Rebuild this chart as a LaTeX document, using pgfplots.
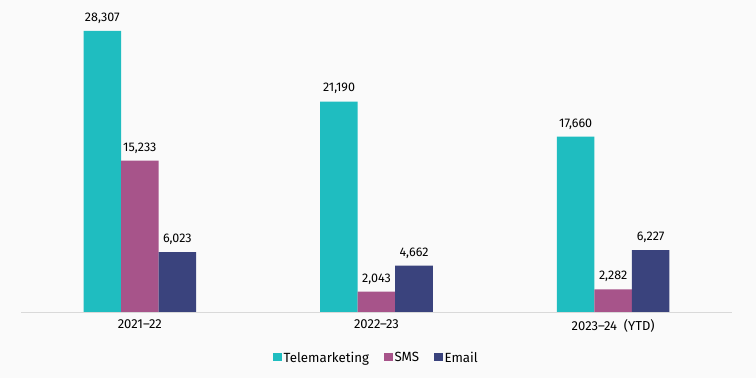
\documentclass[border=0pt]{standalone}
\usepackage{fontspec}
\setmainfont{Fira Sans}
\usepackage{pgfplots}
\pgfplotsset{compat=1.18}
\definecolor{tele}{RGB}{31,189,192}
\definecolor{sms}{RGB}{167,84,138}
\definecolor{email}{RGB}{58,67,125}
\definecolor{bgc}{RGB}{250,250,250}
\begin{document}
\begin{tikzpicture}[x=1pt,y=1pt]
\fill[bgc] (0,0) rectangle (756,378);
\path[use as bounding box] (0,0) rectangle (756,378);
\begin{axis}[
  at={(21.5pt,66pt)}, anchor=south west,
  scale only axis, width=710pt, height=301.9pt,
  xmin=-0.5, xmax=2.5, ymin=0, ymax=30400,
  ybar=0pt, bar width=37.5pt,
  axis x line*=bottom, axis y line=none,
  x axis line style={-, draw=black!15, line width=0.8pt},
  xtick={0,1,2}, xticklabels={2021--22,2022--23,2023--24\ \ (YTD)},
  major tick length=0pt,
  xticklabel style={font=\fontsize{13}{15}\selectfont, text=black, yshift=-4pt},
  ytick=\empty,
  nodes near coords={\pgfmathprintnumber[fixed,precision=0,1000 sep={,},assume math mode=true]{\pgfplotspointmeta}},
  every node near coord/.append style={font=\fontsize{12.5}{14}\selectfont, text=black, yshift=4pt},
  legend style={at={(0.5,-0.151)}, anchor=center, draw=none, fill=none,
    legend columns=-1, font=\fontsize{13.3}{16}\selectfont,
    /tikz/every even column/.append style={column sep=13pt},
    /tikz/every odd column/.append style={column sep=0pt}},
  legend image code/.code={\fill[#1,draw=none] (0pt,-3.5pt) rectangle (8.5pt,5pt);},
]
\addplot[fill=tele, draw=none] coordinates {(0,28307) (1,21190) (2,17660)};
\addplot[fill=sms, draw=none] coordinates {(0,15233) (1,2043) (2,2282)};
\addplot[fill=email, draw=none] coordinates {(0,6023) (1,4662) (2,6227)};
\legend{Telemarketing,SMS,Email}
\end{axis}
\end{tikzpicture}
\end{document}
